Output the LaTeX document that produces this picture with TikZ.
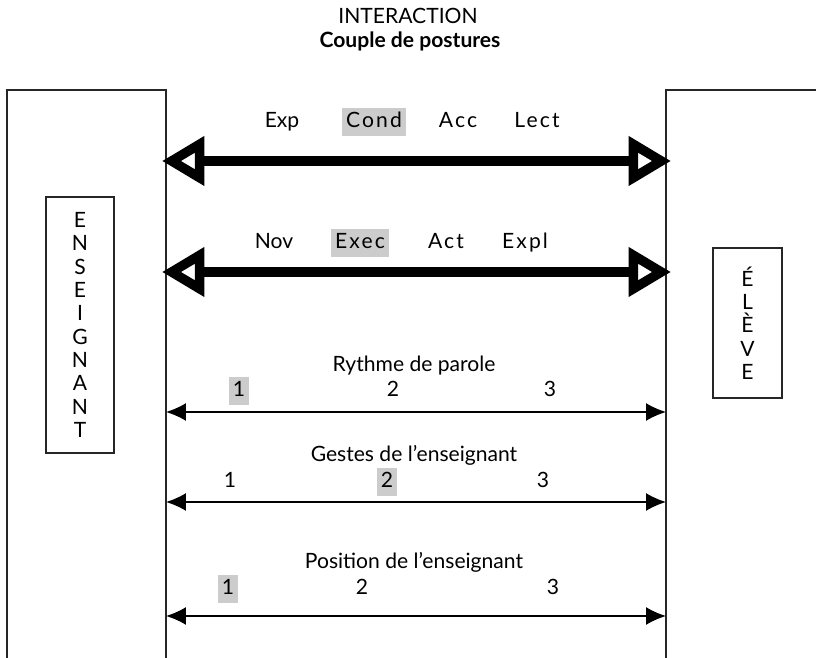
\documentclass[tikz,border=0pt]{standalone}
\usepackage{fontspec}
\setmainfont{Lato}
\usetikzlibrary{arrows.meta}

\newcommand{\spaced}[1]{{\addfontfeatures{LetterSpace=10}#1}}

\tikzset{
  side/.style={draw=black!85, line width=0.8pt},
  vbox/.style={draw=black!85, line width=0.8pt, align=center, inner sep=0pt,
    font=\fontsize{12}{13.3}\selectfont},
  lab/.style={font=\fontsize{12}{14}\selectfont, text height=9pt, text depth=2.5pt,
    inner xsep=2.3pt, inner ysep=2pt},
  hl/.style={lab, fill=gray!40},
  bigtip/.tip={Triangle[open,length=0.85cm,width=0.95cm,line width=0.19cm]},
  bigarrow/.style={line width=0.2cm, bigtip-bigtip},
  thintip/.tip={Latex[length=0.4cm,width=0.36cm]},
  thinarrow/.style={line width=0.9pt, thintip-thintip}
}

\begin{document}
\begin{tikzpicture}[x=0.02cm, y=-0.02cm]
\useasboundingbox (0,0) rectangle (816,658);

% Title
\node [lab] (titre) at (408,18) {INTERACTION};
\node [lab, font=\fontsize{12}{14}\selectfont\bfseries] (soustitre) at (410,42) {Couple de postures};

% The two tall frames, open at the bottom
\draw [side] (7,662) -- (7,90) -- (166,90) -- (166,662);
\draw [side] (666,662) -- (666,90) -- (820,90);

% Vertical names
\node [vbox, minimum width=1.36cm, minimum height=5.12cm] (ens) at (80,325)
  {E\\N\\S\\E\\I\\G\\N\\A\\N\\T};
\node [vbox, minimum width=1.38cm, minimum height=3cm] (eleve) at (747.5,323)
  {É\\L\\È\\V\\E};

% Thick arrows and the postures above them
\foreach \y/\n in {161/a, 272/b} {
  \coordinate (g\n) at (162,\y);
  \coordinate (d\n) at (671,\y);
  \draw [bigarrow] (g\n) -- (d\n);
}
\node [lab] (exp) at (282,122) {Exp};
\node [hl] (cond) at (374,122) {\spaced{Cond}};
\node [lab] (acc) at (458,122) {\spaced{Acc}};
\node [lab] (lect) at (537,122) {\spaced{Lect}};
\node [lab] (nov) at (274,243) {Nov};
\node [hl] (exec) at (360,243) {\spaced{Exec}};
\node [lab] (act) at (446,243) {\spaced{Act}};
\node [lab] (expl) at (525,243) {\spaced{Expl}};

% Thin arrows with their scales
\foreach \n/\t/\ty/\ny/\ay in {
  r/{Rythme de parole}/366/391/412,
  g/{Gestes de l'enseignant}/456/482/502,
  p/{Position de l'enseignant}/563/589/616} {
  \node [lab] (t\n) at (414,\ty) {\t};
  \coordinate (l\n) at (166,\ay);
  \coordinate (r\n) at (666,\ay);
  \draw [thinarrow] (l\n) -- (r\n);
}

% Scale values, the chosen one shaded
\node [hl] (r1) at (239,391) {1};
\node [lab] (r2) at (393,391) {2};
\node [lab] (r3) at (550,391) {3};
\node [lab] (g1) at (230,482) {1};
\node [hl] (g2) at (387,482) {2};
\node [lab] (g3) at (543,482) {3};
\node [hl] (p1) at (228,589) {1};
\node [lab] (p2) at (362,589) {2};
\node [lab] (p3) at (553,589) {3};

\end{tikzpicture}
\end{document}
